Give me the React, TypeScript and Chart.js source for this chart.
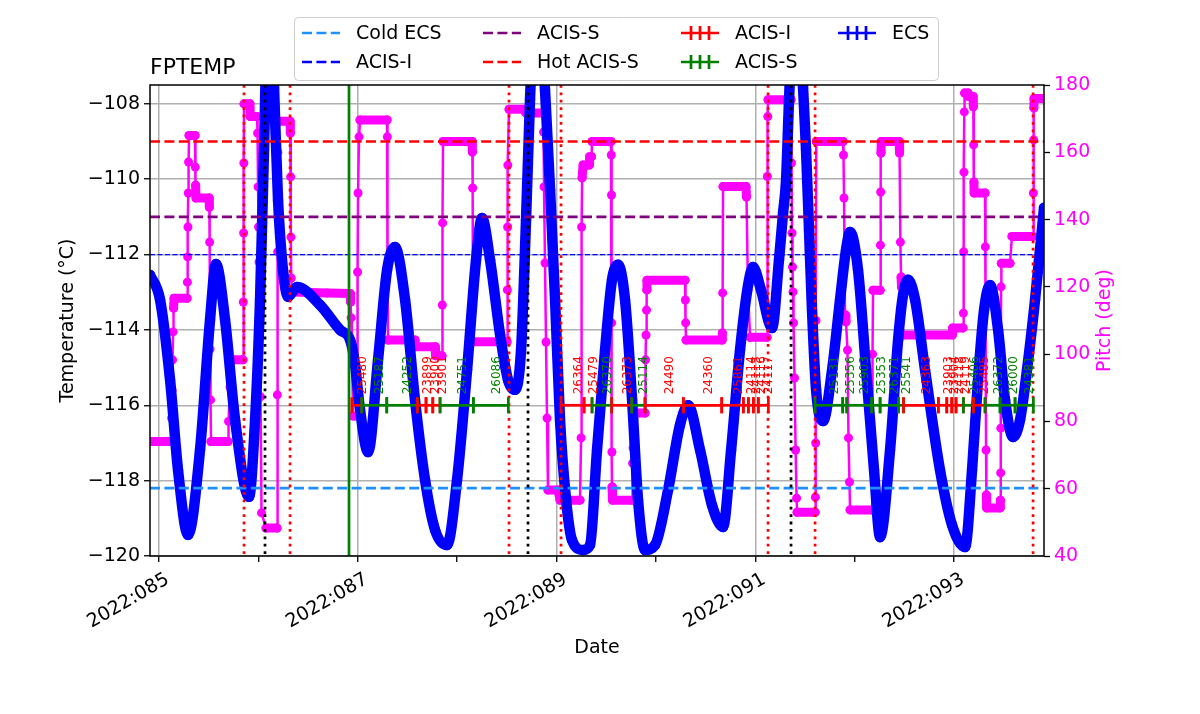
import React, { useEffect, useRef } from 'react';
import { Chart, registerables } from 'chart.js';

Chart.register(...registerables);

const FONT = 'DejaVu Sans';
Chart.defaults.font.family = FONT;

// ---------------- data ----------------
const xMin = 84.909;
const xMax = 93.903;
const xTickDays = [85, 87, 89, 91, 93];
const xTickLabels = ['2022:085', '2022:087', '2022:089', '2022:091', '2022:093'];

const tempDays = [
  84.909, 85.010, 85.111, 85.191, 85.292, 85.412, 85.513, 85.573, 85.664, 85.765,
  85.905, 85.966, 86.016, 86.056, 86.107, 86.157, 86.197, 86.247, 86.298, 86.388,
  86.620, 86.821, 86.922, 86.972, 87.022, 87.103, 87.203, 87.294, 87.374, 87.475,
  87.575, 87.676, 87.777, 87.897, 87.998, 88.099, 88.189, 88.249, 88.330, 88.431,
  88.511, 88.581, 88.642, 88.692, 88.732, 88.803, 88.883, 88.934, 88.984, 89.034,
  89.095, 89.155, 89.266, 89.336, 89.406, 89.487, 89.557, 89.618, 89.688, 89.759,
  89.819, 89.889, 89.990, 90.121, 90.241, 90.322, 90.443, 90.563, 90.674, 90.755,
  90.845, 90.926, 90.976, 91.056, 91.167, 91.237, 91.278, 91.308, 91.338, 91.408,
  91.479, 91.509, 91.539, 91.569, 91.610, 91.680, 91.771, 91.851, 91.911, 91.952,
  92.032, 92.113, 92.193, 92.254, 92.354, 92.435, 92.485, 92.535, 92.606, 92.706,
  92.857, 92.978, 93.109, 93.179, 93.239, 93.300, 93.360, 93.441, 93.511, 93.592,
  93.662, 93.732, 93.813, 93.903,
];
const tempValues = [
  -112.54, -113.20, -115.33, -117.72, -119.44, -117.19, -113.73, -112.25, -113.73, -116.39,
  -118.43, -116.39, -113.20, -109.22, -104.0, -107.58, -110.55, -112.41, -113.12, -112.86,
  -113.34, -114.0, -114.27, -114.93, -116.12, -117.24, -114.80, -112.41, -111.80, -113.20,
  -115.86, -117.98, -119.31, -119.71, -117.98, -115.06, -112.14, -111.03, -112.14, -114.13,
  -115.33, -115.59, -114.53, -111.08, -107.89, -104.0, -107.63, -110.28, -113.20, -116.39,
  -118.51, -119.58, -119.84, -119.71, -117.19, -114.53, -112.67, -112.27, -113.20, -115.86,
  -118.51, -119.84, -119.71, -118.25, -116.52, -116.0, -117.19, -118.65, -119.23, -117.19,
  -114.53, -112.81, -112.33, -112.94, -113.95, -112.14, -110.89, -110.02, -107.89, -104.0,
  -107.58, -109.22, -111.35, -113.47, -115.59, -116.42, -115.06, -113.20, -111.88, -111.40,
  -112.41, -115.06, -117.72, -119.50, -117.19, -114.27, -113.07, -112.67, -113.20, -115.06,
  -117.72, -119.18, -119.76, -117.72, -115.33, -113.47, -112.81, -114.0, -115.86, -116.84,
  -116.39, -115.06, -113.20, -110.76,
];

// pitch samples: [day, pitch deg]
const pitchSamples: [number, number][] = [
  [84.909, 74], [85.121, 74],
  [85.126, 81.0], [85.131, 89.3], [85.136, 98.3], [85.141, 106.6], [85.146, 113.7],
  [85.151, 116.6], [85.282, 116.6],
  [85.285, 121.4], [85.288, 128.9], [85.291, 137.8], [85.294, 147.9], [85.297, 157.1],
  [85.302, 165.0], [85.362, 165.0],
  [85.365, 155.6], [85.368, 150.2],
  [85.372, 146.4], [85.503, 146.4],
  [85.506, 143.7], [85.509, 133.3], [85.513, 101.5], [85.518, 86.4],
  [85.523, 74.0], [85.694, 74.0],
  [85.699, 80.0], [85.714, 90.2],
  [85.744, 98.3], [85.845, 98.3],
  [85.848, 115.5], [85.851, 136.0], [85.853, 156.8],
  [85.855, 174.4], [85.915, 174.4], [85.918, 170.6], [85.986, 170.6],
  [85.991, 165.7], [85.996, 149.7], [86.001, 137.8], [86.006, 127.4], [86.011, 113.1], [86.021, 87.3], [86.031, 52.8],
  [86.076, 48.3], [86.187, 48.3],
  [86.190, 87.9], [86.193, 130.4], [86.195, 160.0],
  [86.197, 169.2], [86.318, 169.2],
  [86.321, 165.7], [86.324, 152.7], [86.327, 134.8], [86.330, 122.6],
  [86.338, 118.5], [86.690, 118.2], [86.922, 118.0],
  [86.927, 115.5], [86.932, 110.8], [86.940, 102.7], [86.952, 81.6],
  [86.992, 81.6],
  [86.997, 124.4], [87.002, 147.9], [87.012, 164.6],
  [87.022, 169.6], [87.294, 169.6],
  [87.297, 164.6], [87.300, 125.6],
  [87.304, 104.2], [87.575, 104.2], [87.580, 102.2], [87.777, 102.2], [87.782, 99.5], [87.847, 99.5],
  [87.850, 114.6], [87.853, 139.0],
  [87.857, 163.2], [88.149, 163.2],
  [88.152, 160.1], [88.155, 149.4],
  [88.159, 103.7], [88.501, 103.7],
  [88.504, 119.1], [88.507, 137.8], [88.509, 156.2],
  [88.521, 172.8], [88.682, 172.8], [88.690, 171.7], [88.863, 171.7],
  [88.868, 166.0], [88.873, 149.7], [88.883, 127.1], [88.893, 103.6], [88.903, 81.0],
  [88.913, 59.6], [89.014, 59.6], [89.034, 56.6], [89.235, 56.6],
  [89.246, 75.1], [89.251, 137.8], [89.256, 152.4],
  [89.266, 156.2], [89.326, 156.2], [89.331, 158.7], [89.351, 158.7], [89.356, 163.2], [89.547, 163.2],
  [89.550, 159.2], [89.552, 147.3], [89.554, 109.3], [89.556, 70.9], [89.557, 60.5],
  [89.562, 56.6], [89.759, 56.6],
  [89.764, 67.6], [89.769, 72.1], [89.779, 77.5],
  [89.789, 82.5], [89.889, 82.5],
  [89.894, 98.3], [89.899, 105.7], [89.904, 113.1], [89.907, 119.1],
  [89.909, 122.0], [90.292, 122.0],
  [90.295, 116.1], [90.298, 109.3],
  [90.302, 104.2], [90.664, 104.2],
  [90.667, 106.3], [90.670, 118.2],
  [90.674, 149.8], [90.905, 149.8],
  [90.910, 146.7], [90.925, 119.1],
  [90.946, 105.0], [91.117, 105.0],
  [91.120, 152.8], [91.124, 170.6],
  [91.127, 175.6], [91.358, 175.6],
  [91.363, 156.8], [91.368, 136.0], [91.373, 125.9], [91.378, 118.5], [91.383, 109.3], [91.393, 92.9], [91.404, 71.5], [91.414, 57.2],
  [91.419, 53.0], [91.600, 53.0],
  [91.603, 57.5], [91.606, 73.6], [91.609, 110.0],
  [91.612, 163.2], [91.881, 163.2],
  [91.886, 159.2], [91.891, 146.4], [91.901, 111.6], [91.911, 109.6], [91.926, 101.2], [91.936, 75.1], [91.946, 62.0],
  [91.952, 53.7], [92.173, 53.7],
  [92.178, 100.0], [92.183, 119.0], [92.254, 119.0],
  [92.257, 132.4], [92.260, 148.2], [92.263, 159.8],
  [92.266, 163.2], [92.445, 163.2],
  [92.450, 159.8], [92.458, 133.3], [92.465, 122.9], [92.470, 119.9],
  [92.485, 105.7], [92.978, 105.7], [92.983, 107.8], [93.089, 107.8],
  [93.092, 112.2], [93.095, 130.4], [93.098, 154.1], [93.101, 172.0],
  [93.104, 177.6], [93.139, 177.6], [93.142, 176.6], [93.189, 176.6],
  [93.192, 173.5], [93.195, 162.2], [93.198, 151.2],
  [93.200, 147.9], [93.310, 147.9],
  [93.313, 131.9], [93.316, 116.1], [93.320, 71.5], [93.323, 58.1],
  [93.326, 54.3], [93.461, 54.3],
  [93.464, 56.6], [93.467, 64.7], [93.469, 78.0], [93.471, 120.0],
  [93.474, 127.0], [93.561, 127.0], [93.581, 135.0], [93.793, 135.0],
  [93.796, 147.9], [93.799, 163.7], [93.801, 173.2],
  [93.803, 176.0], [93.903, 176.0],
];

// horizontal limit lines (deg C)
const limitNames = ['Cold ECS', 'ACIS-I', 'ACIS-S', 'Hot ACIS-S'];
const limitValues = [-118.2, -112.0, -111.0, -109.0];

// vertical event lines (day)
const redLineDays = [85.855, 86.318, 88.521, 89.044, 91.127, 91.600, 93.793];
const blackLineDays = [86.066, 88.712, 91.358];
const greenLineDays = [86.911];

// observations
const obsLevel = -116;
const obsIds = ['25480', '25187', '24252', '23899', '23900', '23901', '24751', '26086', '26364', '25479', '26370', '26373', '25114', '24490', '24360', '25861', '24114', '24115', '24116', '24117', '25131', '25356', '25903', '25353', '26371', '25541', '24363', '23903', '23904', '24118', '24119', '25406', '25485', '26372', '26000', '24381'];
const obsInstr = ['I', 'S', 'S', 'I', 'I', 'I', 'S', 'S', 'I', 'I', 'S', 'I', 'S', 'I', 'I', 'I', 'I', 'I', 'I', 'I', 'S', 'S', 'S', 'S', 'S', 'S', 'I', 'I', 'I', 'I', 'I', 'S', 'I', 'S', 'S', 'S'];
const obsStart = [86.939, 87.039, 87.291, 87.599, 87.686, 87.754, 87.827, 88.162, 89.044, 89.276, 89.356, 89.554, 89.755, 89.889, 90.275, 90.661, 90.878, 90.929, 90.979, 91.029, 91.600, 91.878, 91.919, 92.170, 92.254, 92.438, 92.490, 92.840, 92.925, 92.975, 93.018, 93.092, 93.193, 93.310, 93.461, 93.612];
const obsStop = [87.039, 87.291, 87.599, 87.686, 87.754, 87.827, 88.162, 88.514, 89.276, 89.356, 89.554, 89.755, 89.889, 90.275, 90.661, 90.878, 90.929, 90.979, 91.029, 91.130, 91.878, 91.919, 92.170, 92.254, 92.438, 92.490, 92.840, 92.925, 92.975, 93.018, 93.092, 93.193, 93.310, 93.461, 93.612, 93.796];

// ---------------- styles ----------------
const BLUE = '#0000ff';
const MAGENTA = '#ff00ff';
const RED = '#ff0000';
const GREEN = '#008000';
const PURPLE = '#800080';
const DODGER = '#1e90ff';
const FS = 19;
const LW = 2.7;
const DASH = [10, 4.4];
const DOT = [2.8, 4.6];

const limitStyles = [
  { color: DODGER, width: LW, dash: DASH },
  { color: BLUE, width: 1.3, dash: [5, 2.5] },
  { color: PURPLE, width: LW, dash: DASH },
  { color: RED, width: LW, dash: DASH },
];

const legendItems = [
  { label: 'Cold ECS', kind: 'dash', color: DODGER, col: 0, row: 0 },
  { label: 'ACIS-I', kind: 'dash', color: BLUE, col: 0, row: 1 },
  { label: 'ACIS-S', kind: 'dash', color: PURPLE, col: 1, row: 0 },
  { label: 'Hot ACIS-S', kind: 'dash', color: RED, col: 1, row: 1 },
  { label: 'ACIS-I', kind: 'err', color: RED, col: 2, row: 0 },
  { label: 'ACIS-S', kind: 'err', color: GREEN, col: 2, row: 1 },
  { label: 'ECS', kind: 'err', color: BLUE, col: 3, row: 0 },
];
const legendCols = [302, 483, 681, 838];
const legendRows = [33, 62];

const fmtMinus = (v: number) => (v < 0 ? '\u2212' + Math.abs(v) : String(v));

const overlayPlugin = {
  id: 'overlay',
  afterDatasetsDraw(chart: any) {
    const { ctx, chartArea: a } = chart;
    const xs = chart.scales.x;
    const ys = chart.scales.y;
    ctx.save();
    ctx.beginPath();
    ctx.rect(a.left, a.top, a.right - a.left, a.bottom - a.top);
    ctx.clip();

    const vline = (d: number, color: string, dash: number[]) => {
      const px = xs.getPixelForValue(d);
      ctx.strokeStyle = color;
      ctx.lineWidth = LW;
      ctx.setLineDash(dash);
      ctx.beginPath();
      ctx.moveTo(px, a.top);
      ctx.lineTo(px, a.bottom);
      ctx.stroke();
    };
    redLineDays.forEach((d) => vline(d, RED, DOT));
    blackLineDays.forEach((d) => vline(d, '#000000', DOT));
    greenLineDays.forEach((d) => vline(d, GREEN, []));

    // observations
    const py = ys.getPixelForValue(obsLevel);
    ctx.setLineDash([]);
    ctx.lineWidth = LW;
    obsIds.forEach((_, i) => {
      const color = obsInstr[i] === 'I' ? RED : GREEN;
      const x0 = xs.getPixelForValue(obsStart[i]);
      const x1 = xs.getPixelForValue(obsStop[i]);
      ctx.strokeStyle = color;
      ctx.beginPath();
      ctx.moveTo(x0, py);
      ctx.lineTo(x1, py);
      ctx.stroke();
      ctx.beginPath();
      ctx.moveTo(x0, py - 8);
      ctx.lineTo(x0, py + 8);
      ctx.moveTo(x1, py - 8);
      ctx.lineTo(x1, py + 8);
      ctx.stroke();
    });
    ctx.font = `12px "${FONT}"`;
    obsIds.forEach((id, i) => {
      const color = obsInstr[i] === 'I' ? RED : GREEN;
      const xm = xs.getPixelForValue((obsStart[i] + obsStop[i]) / 2);
      ctx.save();
      ctx.translate(xm, py - 11);
      ctx.rotate(-Math.PI / 2);
      ctx.fillStyle = color;
      ctx.textAlign = 'left';
      ctx.textBaseline = 'top';
      ctx.fillText(id, 0, 0);
      ctx.restore();
    });
    ctx.restore();

    // frame
    ctx.save();
    ctx.strokeStyle = '#000';
    ctx.lineWidth = 1.5;
    ctx.setLineDash([]);
    ctx.strokeRect(a.left, a.top, a.right - a.left, a.bottom - a.top);
    ctx.restore();
  },
  afterDraw(chart: any) {
    const { ctx, chartArea: a } = chart;
    const xs = chart.scales.x;
    ctx.save();
    // title
    ctx.fillStyle = '#000';
    ctx.font = `22px "${FONT}"`;
    ctx.textAlign = 'left';
    ctx.textBaseline = 'alphabetic';
    ctx.fillText('FPTEMP', a.left, a.top - 11);

    // x tick labels
    ctx.font = `${FS}px "${FONT}"`;
    xTickDays.forEach((d, i) => {
      const px = xs.getPixelForValue(d);
      ctx.save();
      ctx.translate(px + 4, a.bottom + 14);
      ctx.rotate(-Math.PI / 6);
      ctx.textAlign = 'right';
      ctx.textBaseline = 'top';
      ctx.fillText(xTickLabels[i], 0, 0);
      ctx.restore();
    });

    // right axis title
    ctx.save();
    ctx.translate(1105, (a.top + a.bottom) / 2);
    ctx.rotate(-Math.PI / 2);
    ctx.fillStyle = MAGENTA;
    ctx.textAlign = 'center';
    ctx.textBaseline = 'middle';
    ctx.fillText('Pitch (deg)', 0, 0);
    ctx.restore();

    // legend
    const bx = 294, by = 17, bw = 644, bh = 63;
    ctx.fillStyle = 'rgba(255,255,255,0.85)';
    ctx.strokeStyle = '#cccccc';
    ctx.lineWidth = 1;
    ctx.beginPath();
    (ctx as any).roundRect(bx + 0.5, by + 0.5, bw, bh, 4);
    ctx.fill();
    ctx.stroke();
    legendItems.forEach((it) => {
      const hx = legendCols[it.col];
      const hy = legendRows[it.row];
      const hw = 38;
      ctx.strokeStyle = it.color;
      ctx.lineWidth = LW;
      if (it.kind === 'dash') {
        ctx.setLineDash(DASH);
        ctx.beginPath();
        ctx.moveTo(hx, hy);
        ctx.lineTo(hx + hw, hy);
        ctx.stroke();
        ctx.setLineDash([]);
      } else {
        ctx.setLineDash([]);
        ctx.beginPath();
        ctx.moveTo(hx, hy);
        ctx.lineTo(hx + hw, hy);
        const c = hx + hw / 2;
        [c - 9, c, c + 9].forEach((tx) => {
          ctx.moveTo(tx, hy - 7);
          ctx.lineTo(tx, hy + 7);
        });
        ctx.stroke();
      }
      ctx.fillStyle = '#000';
      ctx.font = `${FS}px "${FONT}"`;
      ctx.textAlign = 'left';
      ctx.textBaseline = 'middle';
      ctx.fillText(it.label, hx + 54, hy + 1);
    });
    ctx.restore();
  },
};

export default function App() {
  const ref = useRef<HTMLCanvasElement>(null);

  useEffect(() => {
    const canvas = ref.current;
    if (!canvas) return;

    const isMajor = (v: any) => typeof v === 'number' && xTickDays.some((d) => Math.abs(d - v) < 1e-6);

    const datasets: any[] = [
      {
        label: 'FPTEMP',
        data: tempDays.map((d, i) => ({ x: d, y: tempValues[i] })),
        yAxisID: 'y',
        borderColor: BLUE,
        backgroundColor: BLUE,
        borderWidth: 10.5,
        pointRadius: 5.2,
        pointBorderWidth: 0,
        pointBackgroundColor: BLUE,
        cubicInterpolationMode: 'monotone',
        borderCapStyle: 'round',
        borderJoinStyle: 'round',
        fill: false,
        clip: 0,
        order: 5,
      },
      {
        label: 'Pitch',
        data: pitchSamples.map(([d, p]) => ({ x: d, y: p })),
        yAxisID: 'y2',
        borderColor: MAGENTA,
        backgroundColor: MAGENTA,
        borderWidth: 2.5,
        pointRadius: 4.5,
        pointBorderWidth: 0,
        pointBackgroundColor: MAGENTA,
        borderCapStyle: 'round',
        borderJoinStyle: 'round',
        segment: {
          borderWidth: (c: any) => (Math.abs(c.p0.parsed.y - c.p1.parsed.y) < 4 ? 9 : 2.5),
        },
        fill: false,
        clip: 0,
        order: 10,
      },
      ...limitValues.map((v, i) => ({
        label: limitNames[i],
        data: [
          { x: xMin, y: v },
          { x: xMax, y: v },
        ],
        yAxisID: 'y',
        borderColor: limitStyles[i].color,
        borderWidth: limitStyles[i].width,
        borderDash: limitStyles[i].dash,
        pointRadius: 0,
        fill: false,
        clip: 0,
        order: 1,
      })),
    ];

    const chart = new Chart(canvas, {
      type: 'line',
      data: { datasets },
      options: {
        animation: false,
        responsive: false,
        events: [],
        layout: { padding: { top: 85, left: 0, right: 0, bottom: 0 } },
        plugins: {
          legend: { display: false },
          tooltip: { enabled: false },
          title: { display: false },
        },
        scales: {
          x: {
            type: 'linear',
            min: xMin,
            max: xMax,
            afterFit: (s: any) => {
              s.height = 158;
            },
            ticks: { stepSize: 1, includeBounds: false, display: false, autoSkip: false },
            grid: {
              color: (c: any) => (isMajor(c.tick?.value) ? '#b0b0b0' : 'rgba(0,0,0,0)'),
              lineWidth: 1.5,
              tickColor: '#000',
              tickLength: 6,
              tickWidth: 1.3,
            },
            border: { display: false },
            title: {
              display: true,
              text: 'Date',
              color: '#000',
              font: { size: FS, family: FONT },
              padding: { top: 0, bottom: 55 },
            },
          },
          y: {
            type: 'linear',
            position: 'left',
            min: -120,
            max: -107.5,
            afterFit: (s: any) => {
              s.width = 150;
            },
            ticks: {
              stepSize: 2,
              includeBounds: false,
              padding: 4,
              color: '#000',
              font: { size: FS, family: FONT },
              callback: (v: any) => fmtMinus(Number(v)),
            },
            grid: { color: '#b0b0b0', lineWidth: 1.5, tickColor: '#000', tickLength: 6, tickWidth: 1.3 },
            border: { display: false },
            title: {
              display: true,
              text: 'Temperature (°C)',
              color: '#000',
              font: { size: FS, family: FONT },
              padding: { top: 57, bottom: 0 },
            },
          },
          y2: {
            type: 'linear',
            position: 'right',
            min: 40,
            max: 180,
            afterFit: (s: any) => {
              s.width = 156;
            },
            ticks: {
              stepSize: 20,
              includeBounds: false,
              padding: 4,
              color: MAGENTA,
              font: { size: FS, family: FONT },
            },
            grid: { drawOnChartArea: false, tickColor: '#000', tickLength: 6, tickWidth: 1.3 },
            border: { display: false },
          },
        },
      } as any,
      plugins: [overlayPlugin as any],
    });

    return () => chart.destroy();
  }, []);

  return (
    <div style={{ position: 'absolute', left: 0, top: 0, width: 1200, height: 714, background: '#ffffff' }}>
      <canvas ref={ref} width={1200} height={714} style={{ display: 'block', width: 1200, height: 714 }} />
    </div>
  );
}
